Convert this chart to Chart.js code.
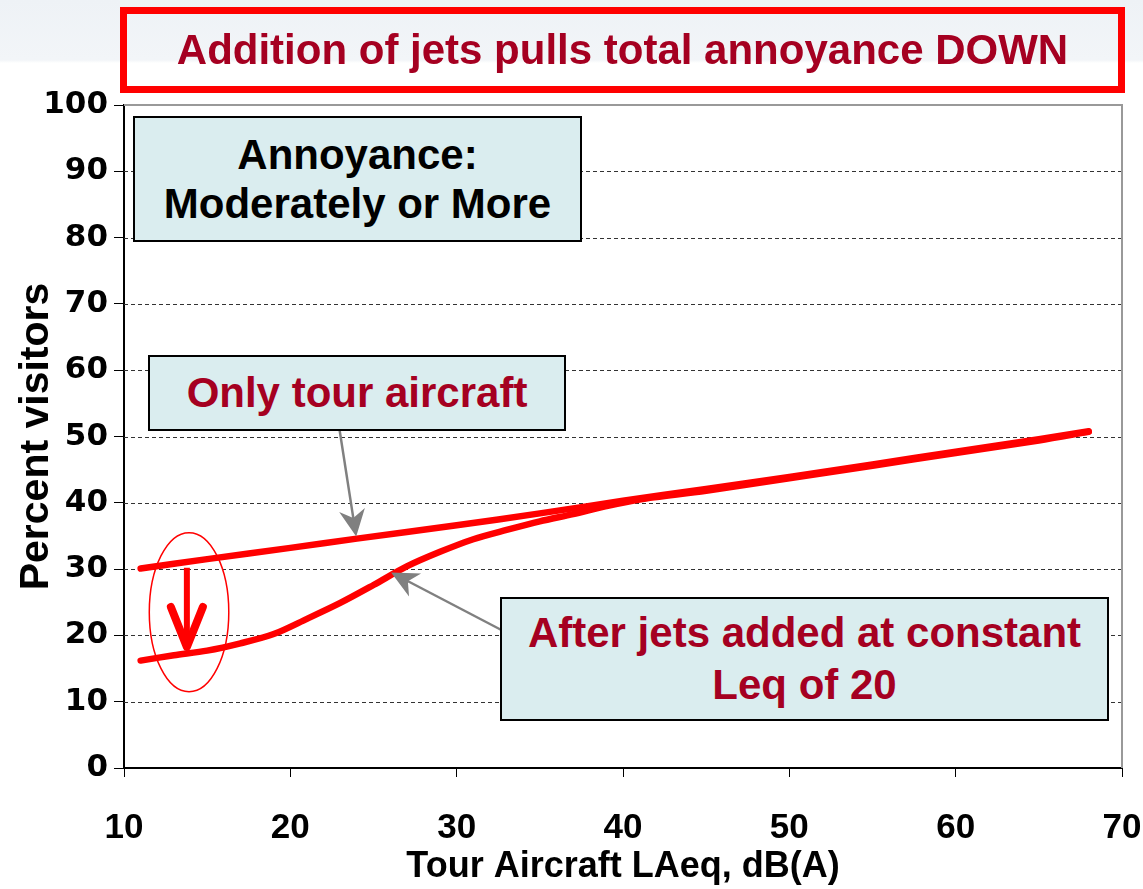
<!DOCTYPE html>
<html>
<head>
<meta charset="utf-8">
<script src="https://cdn.jsdelivr.net/npm/chart.js@4.4.0/dist/chart.umd.min.js"></script>
<style>
    html, body { margin: 0; padding: 0; }
    body {
        width: 1143px;
        height: 889px;
        position: relative;
        overflow: hidden;
        background: linear-gradient(to bottom, #eef2f6 0px, #f2f5f8 60px, #ffffff 63px);
        font-family: 'Liberation Sans', Arial, sans-serif;
    }
    #chart-wrap { position: absolute; left: 0; top: 0; width: 1143px; height: 889px; }
    .title-box {
        position: absolute;
        left: 120px; top: 7px;
        width: 991px; height: 72px;
        border: 7px solid #ff0000;
        color: #a50021;
        font-weight: bold;
        font-size: 42px;
        line-height: 72px;
        text-align: center;
        white-space: nowrap;
    }
    .note {
        position: absolute;
        background: #daedef;
        border: 2px solid #000;
        font-weight: bold;
        text-align: center;
        box-sizing: border-box;
        display: flex;
        align-items: center;
        justify-content: center;
        white-space: nowrap;
    }
    .note.black { color: #000; }
    .note.red { color: #a50021; }
</style>
</head>
<body>
<div id="chart-wrap"><canvas id="annoyance-chart" width="1143" height="889"></canvas></div>

<div class="title-box">Addition of jets pulls total annoyance DOWN</div>

<div class="note black" style="left:133px; top:116px; width:449px; height:126px; font-size:42px; line-height:49px;">Annoyance:<br>Moderately or More</div>
<div class="note red" style="left:148px; top:355px; width:418px; height:76px; font-size:42px;">Only tour aircraft</div>
<div class="note red" style="left:500px; top:597px; width:609px; height:124px; font-size:42px; line-height:52px;">After jets added at constant<br>Leq of 20</div>

<script>
// values
const tourX = [11, 15, 20, 24, 30, 35, 40, 45, 50, 55, 60, 65, 68];
const tourY = [30.1, 31.5, 33.2, 34.6, 36.6, 38.4, 40.3, 42.1, 43.9, 45.8, 47.7, 49.6, 50.8];

const jetsX = [11, 13, 15, 17, 19, 21, 23, 25, 27, 29, 31, 33, 35, 37, 39, 41, 45, 50, 55, 60, 65, 68];
const jetsY = [16.2, 17.0, 17.7, 18.8, 20.2, 22.5, 24.9, 27.6, 30.4, 32.6, 34.5, 35.9, 37.2, 38.3, 39.5, 40.5, 41.8, 43.7, 45.6, 47.5, 49.4, 50.7];

const xTicks = [10, 20, 30, 40, 50, 60, 70];
const yTicks = [0, 10, 20, 30, 40, 50, 60, 70, 80, 90, 100];

// annotation anchors, in data units
const tourArrow = { from: [22.96, 51.0], to: [23.96, 34.9] };
const jetsArrow = { from: [32.66, 20.85], to: [26.06, 29.5] };
const dropArrow = { x: 13.78, from: 30.2, to: 17.8 };
const dropEllipse = { x: 13.91, y: 23.5, rx: 2.39, ry: 12.0 };

const RED = '#ff0000';
const GREY = '#808080';

function toPoints(xs, ys) {
    return xs.map((x, i) => ({ x: x, y: ys[i] }));
}

function arrowHead(ctx, x1, y1, x2, y2, len, half) {
    const ang = Math.atan2(y2 - y1, x2 - x1);
    const bx = x2 - len * Math.cos(ang);
    const by = y2 - len * Math.sin(ang);
    ctx.beginPath();
    ctx.moveTo(x2, y2);
    ctx.lineTo(bx + half * Math.sin(ang), by - half * Math.cos(ang));
    ctx.lineTo(x2 - len * 0.7 * Math.cos(ang), y2 - len * 0.7 * Math.sin(ang));
    ctx.lineTo(bx - half * Math.sin(ang), by + half * Math.cos(ang));
    ctx.closePath();
    ctx.fill();
}

// dashed grid + plot frame, drawn under the lines
const framePlugin = {
    id: 'frame',
    beforeDatasetsDraw(chart) {
        const { ctx, chartArea: a, scales } = chart;
        ctx.save();
        ctx.strokeStyle = '#333';
        ctx.lineWidth = 1;
        ctx.setLineDash([4, 3]);
        yTicks.slice(1, -1).forEach(v => {
            const y = Math.round(scales.y.getPixelForValue(v)) + 0.5;
            ctx.beginPath();
            ctx.moveTo(a.left, y);
            ctx.lineTo(a.right, y);
            ctx.stroke();
        });
        ctx.setLineDash([]);
        ctx.strokeStyle = '#999';
        ctx.lineWidth = 2;
        ctx.beginPath();
        ctx.moveTo(a.left, a.top);
        ctx.lineTo(a.right, a.top);
        ctx.lineTo(a.right, a.bottom);
        ctx.stroke();
        ctx.restore();
    }
};

// arrows and ellipse on top of the lines
const markupPlugin = {
    id: 'markup',
    afterDatasetsDraw(chart) {
        const { ctx, scales } = chart;
        const px = v => scales.x.getPixelForValue(v);
        const py = v => scales.y.getPixelForValue(v);
        ctx.save();

        [tourArrow, jetsArrow].forEach(arr => {
            const x1 = px(arr.from[0]), y1 = py(arr.from[1]);
            const x2 = px(arr.to[0]), y2 = py(arr.to[1]);
            ctx.strokeStyle = GREY;
            ctx.fillStyle = GREY;
            ctx.lineWidth = 2.5;
            ctx.beginPath();
            ctx.moveTo(x1, y1);
            ctx.lineTo(x2 - (x2 - x1) * 0.08, y2 - (y2 - y1) * 0.08);
            ctx.stroke();
            arrowHead(ctx, x1, y1, x2, y2, 27, 13);
        });

        const dx = px(dropArrow.x);
        const dy1 = py(dropArrow.from), dy2 = py(dropArrow.to);
        ctx.strokeStyle = RED;
        ctx.lineWidth = 6;
        ctx.lineCap = 'butt';
        ctx.beginPath();
        ctx.moveTo(dx, dy1);
        ctx.lineTo(dx, dy2 - 10);
        ctx.stroke();
        ctx.lineWidth = 8;
        ctx.lineJoin = 'round';
        ctx.lineCap = 'round';
        ctx.beginPath();
        ctx.moveTo(dx - 16, dy2 - 43);
        ctx.lineTo(dx, dy2 - 3);
        ctx.lineTo(dx + 16, dy2 - 43);
        ctx.stroke();

        const ex = px(dropEllipse.x), ey = py(dropEllipse.y);
        const erx = px(dropEllipse.x + dropEllipse.rx) - ex;
        const ery = ey - py(dropEllipse.y + dropEllipse.ry);
        ctx.lineWidth = 1.5;
        ctx.beginPath();
        ctx.ellipse(ex, ey, erx, ery, 0, 0, Math.PI * 2);
        ctx.stroke();
        ctx.restore();
    }
};

new Chart(document.getElementById('annoyance-chart'), {
    type: 'line',
    data: {
        datasets: [{
            label: 'Only tour aircraft',
            data: toPoints(tourX, tourY),
            borderColor: RED,
            borderWidth: 6.5,
            pointRadius: 0,
            tension: 0.3,
            borderCapStyle: 'round'
        }, {
            label: 'After jets added at constant Leq of 20',
            data: toPoints(jetsX, jetsY),
            borderColor: RED,
            borderWidth: 6.5,
            pointRadius: 0,
            tension: 0.3,
            borderCapStyle: 'round'
        }]
    },
    options: {
        responsive: false,
        animation: false,
        events: [],
        layout: { padding: { top: 105, right: 21, left: 0, bottom: 0 } },
        plugins: {
            legend: { display: false },
            tooltip: { enabled: false }
        },
        scales: {
            x: {
                type: 'linear',
                min: 10,
                max: 70,
                afterFit: scale => {
                    scale.height = 121;
                    scale.paddingLeft = 0;
                    scale.paddingRight = 0;
                },
                afterBuildTicks: scale => { scale.ticks = xTicks.map(v => ({ value: v })); },
                ticks: {
                    color: '#000',
                    padding: 30,
                    font: { family: "'Liberation Sans', Arial", size: 35, weight: 'bold' }
                },
                grid: { drawOnChartArea: false, drawTicks: true, tickLength: 9, color: '#000', lineWidth: 1 },
                border: { color: '#000', width: 2 },
                title: {
                    display: true,
                    text: 'Tour Aircraft LAeq, dB(A)',
                    color: '#000',
                    padding: { top: 0, bottom: 0 },
                    font: { family: "'Liberation Sans', Arial", size: 36, weight: 'bold' }
                }
            },
            y: {
                min: 0,
                max: 100,
                afterFit: scale => {
                    scale.width = 124;
                    scale.paddingTop = 0;
                    scale.paddingBottom = 0;
                },
                afterBuildTicks: scale => { scale.ticks = yTicks.map(v => ({ value: v })); },
                ticks: {
                    color: '#000',
                    padding: 6,
                    font: { family: "'DejaVu Sans'", size: 31, weight: 'bold' }
                },
                grid: { drawOnChartArea: false, drawTicks: true, tickLength: 10, color: '#000', lineWidth: 1 },
                border: { color: '#000', width: 2 },
                title: {
                    display: true,
                    text: 'Percent visitors',
                    color: '#000',
                    padding: { top: 12, bottom: 0 },
                    font: { family: "'Liberation Sans', Arial", size: 41, weight: 'bold' }
                }
            }
        }
    },
    plugins: [framePlugin, markupPlugin]
});
</script>
</body>
</html>
